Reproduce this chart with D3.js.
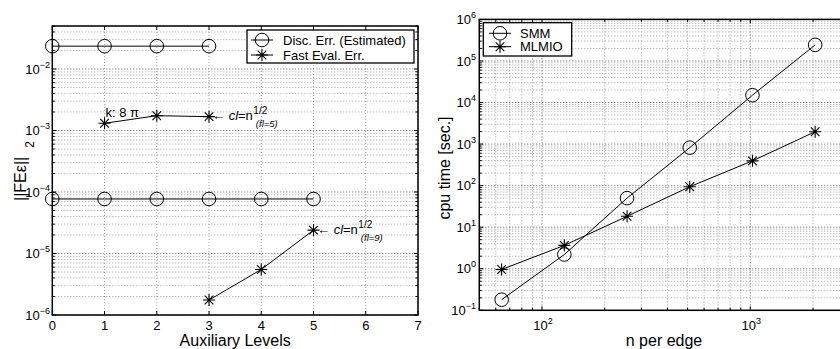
<!DOCTYPE html>
<html>
<head>
<meta charset="utf-8">
<script src="https://cdn.jsdelivr.net/npm/d3@7"></script>
<style>
  body { margin: 0; background: #fff; }
  svg { display: block; }
  text { font-family: "Liberation Sans", Arial, Helvetica, sans-serif; fill: #000; }
</style>
</head>
<body>
<svg id="chart" width="840" height="349"></svg>
<script>
// ---- Left panel: error norm vs. number of auxiliary levels ----
const discLevelsA = [0, 1, 2, 3];
const discErrA = [0.0235, 0.0235, 0.0235, 0.0235];
const discLevelsB = [0, 1, 2, 3, 4, 5];
const discErrB = [7.7e-5, 7.7e-5, 7.7e-5, 7.7e-5, 7.7e-5, 7.7e-5];
const fastLevelsA = [1, 2, 3];
const fastErrA = [1.31e-3, 1.74e-3, 1.68e-3];
const fastLevelsB = [3, 4, 5];
const fastErrB = [1.75e-6, 5.5e-6, 2.4e-5];
const levelTicks = [0, 1, 2, 3, 4, 5, 6, 7];
const errTickExps = [-6, -5, -4, -3, -2];
const leftLegend = ["Disc. Err. (Estimated)", "Fast Eval. Err."];

// ---- Right panel: cpu time vs. n per edge ----
const nPerEdge = [64, 128, 256, 512, 1024, 2048];
const smmTime = [0.18, 2.2, 50, 820, 15000, 244000];
const mlmioTime = [0.96, 3.65, 18.3, 94, 395, 1980];
const nTickExps = [2, 3];
const timeTickExps = [-1, 0, 1, 2, 3, 4, 5, 6];
const rightLegend = ["SMM", "MLMIO"];

const svg = d3.select("#chart");
const minus = e => (e < 0 ? "\u2212" + (-e) : String(e));

// log-axis helpers: every m*10^d inside the domain
function logGridValues(lo, hi) {
  const vals = [];
  for (let d = Math.floor(Math.log10(lo)); d <= Math.ceil(Math.log10(hi)); d++) {
    for (let m = 1; m <= 9; m++) {
      const v = m * Math.pow(10, d);
      if (v >= lo * 0.9999 && v <= hi * 1.0001) vals.push({ v, major: m === 1 });
    }
  }
  return vals;
}

function starPath(s) {
  const d = s * 0.72;
  return `M${-s},0L${s},0M0,${-s}L0,${s}M${-d},${-d}L${d},${d}M${-d},${d}L${d},${-d}`;
}

function drawSeries(g, xs, ys, xScale, yScale, marker) {
  const pts = xs.map((x, i) => [xScale(x), yScale(ys[i])]);
  g.append("path")
    .attr("d", d3.line()(pts))
    .attr("fill", "none").attr("stroke", "#000").attr("stroke-width", 1);
  pts.forEach(p => drawMarker(g, p[0], p[1], marker));
}

function drawMarker(g, x, y, marker) {
  if (marker === "o") {
    g.append("circle").attr("cx", x).attr("cy", y).attr("r", 6.8)
      .attr("fill", "none").attr("stroke", "#000").attr("stroke-width", 1);
  } else {
    g.append("path").attr("transform", `translate(${x},${y})`)
      .attr("d", starPath(6)).attr("fill", "none")
      .attr("stroke", "#000").attr("stroke-width", 1.1);
  }
}

function gridLine(g, x1, y1, x2, y2, major) {
  g.append("line").attr("x1", x1).attr("y1", y1).attr("x2", x2).attr("y2", y2)
    .attr("stroke", major ? "#555" : "#8a8a8a")
    .attr("stroke-width", major ? 0.9 : 0.8)
    .attr("stroke-dasharray", "1,2");
}

function tickLabelPow(g, x, y, exp, anchor) {
  const t = g.append("text").attr("x", x).attr("y", y)
    .attr("text-anchor", anchor).attr("font-size", 13);
  t.append("tspan").text("10");
  t.append("tspan").attr("dy", -6).attr("font-size", 9).text(minus(exp));
}

function legend(g, x, y, w, h, rows, rowYs, sampleX, textX) {
  g.append("rect").attr("x", x).attr("y", y).attr("width", w).attr("height", h)
    .attr("fill", "#fff").attr("stroke", "#000").attr("stroke-width", 1.3);
  rows.forEach((r, i) => {
    const ry = rowYs[i];
    g.append("line").attr("x1", sampleX - 11).attr("x2", sampleX + 11)
      .attr("y1", ry).attr("y2", ry).attr("stroke", "#000");
    drawMarker(g, sampleX, ry, i === 0 ? "o" : "*");
    g.append("text").attr("x", textX).attr("y", ry + 4.6)
      .attr("font-size", 13).text(r);
  });
}

// ================= Left panel =================
{
  const x0 = 52.3, x1 = 418, yTop = 26, yBot = 315;
  const x = d3.scaleLinear().domain([0, 7]).range([x0, x1]);
  const y = d3.scaleLog().domain([1e-6, 0.05]).range([yBot, yTop]);
  const g = svg.append("g");

  // grid
  levelTicks.forEach(t => gridLine(g, x(t), yTop, x(t), yBot, false));
  logGridValues(1e-6, 0.05).forEach(d => gridLine(g, x0, y(d.v), x1, y(d.v), d.major));

  // ticks (inward, all four sides)
  levelTicks.forEach(t => {
    g.append("line").attr("x1", x(t)).attr("x2", x(t)).attr("y1", yBot).attr("y2", yBot - 4).attr("stroke", "#000");
    g.append("line").attr("x1", x(t)).attr("x2", x(t)).attr("y1", yTop).attr("y2", yTop + 4).attr("stroke", "#000");
  });
  logGridValues(1e-6, 0.05).forEach(d => {
    const L = d.major ? 4 : 2.5;
    g.append("line").attr("x1", x0).attr("x2", x0 + L).attr("y1", y(d.v)).attr("y2", y(d.v)).attr("stroke", "#000");
    g.append("line").attr("x1", x1).attr("x2", x1 - L).attr("y1", y(d.v)).attr("y2", y(d.v)).attr("stroke", "#000");
  });

  // box
  g.append("rect").attr("x", x0).attr("y", yTop).attr("width", x1 - x0).attr("height", yBot - yTop)
    .attr("fill", "none").attr("stroke", "#000").attr("stroke-width", 1.5);

  // tick labels
  levelTicks.forEach(t => g.append("text").attr("x", x(t)).attr("y", 329.5)
    .attr("text-anchor", "middle").attr("font-size", 13).text(t));
  errTickExps.forEach(e => tickLabelPow(g, 50, y(Math.pow(10, e)) + 4.7, e, "end"));

  // series
  drawSeries(g, discLevelsA, discErrA, x, y, "o");
  drawSeries(g, discLevelsB, discErrB, x, y, "o");
  drawSeries(g, fastLevelsA, fastErrA, x, y, "*");
  drawSeries(g, fastLevelsB, fastErrB, x, y, "*");

  // annotations
  g.append("text").attr("x", x(1) + 1).attr("y", y(fastErrA[0]) - 6)
    .attr("font-size", 13).text("k: 8 \u03c0");

  function clNote(px, py, fl) {
    const t = g.append("text").attr("x", px).attr("y", py).attr("font-size", 13);
    t.append("tspan").text("\u2190 ");
    t.append("tspan").attr("font-style", "italic").text("cl");
    t.append("tspan").text("=n");
    const right = px + t.node().getComputedTextLength();
    g.append("text").attr("x", right + 0.5).attr("y", py - 6).attr("font-size", 10).text("1/2");
    g.append("text").attr("x", right + 3).attr("y", py + 7.5).attr("font-size", 9.5)
      .attr("font-style", "italic").text(`(fl=${fl})`);
  }
  clNote(x(3) + 3, y(fastErrA[2]) + 3, 5);
  clNote(x(5) + 3.5, y(fastErrB[2]) + 3.5, 9);

  // axis labels
  g.append("text").attr("x", x(3.5)).attr("y", 346).attr("text-anchor", "middle")
    .attr("font-size", 16).text("Auxiliary Levels");
  const yl = g.append("text").attr("transform", "translate(26,201) rotate(-90)")
    .attr("font-size", 16);
  yl.append("tspan").text("||FE\u03b5||");
  yl.append("tspan").attr("dx", 9).attr("dy", 8).attr("font-size", 12).text("2");

  legend(g, 247, 30, 167, 33, leftLegend, [40, 55], 262, 283);
}

// ================= Right panel =================
{
  const x0 = 479.3, yTop = 19.4, yBot = 310.3;
  const x = d3.scaleLog().domain([50, 3000]).range([x0, x0 + 208.3 * Math.log10(60)]);
  const x1 = x(3000);
  const y = d3.scaleLog().domain([0.1, 1e6]).range([yBot, yTop]);
  const g = svg.append("g");

  logGridValues(50, 3000).forEach(d => gridLine(g, x(d.v), yTop, x(d.v), yBot, d.major));
  logGridValues(0.1, 1e6).forEach(d => gridLine(g, x0, y(d.v), x1, y(d.v), d.major));

  logGridValues(50, 3000).forEach(d => {
    const L = d.major ? 4 : 2.5;
    g.append("line").attr("x1", x(d.v)).attr("x2", x(d.v)).attr("y1", yBot).attr("y2", yBot - L).attr("stroke", "#000");
    g.append("line").attr("x1", x(d.v)).attr("x2", x(d.v)).attr("y1", yTop).attr("y2", yTop + L).attr("stroke", "#000");
  });
  logGridValues(0.1, 1e6).forEach(d => {
    const L = d.major ? 4 : 2.5;
    g.append("line").attr("x1", x0).attr("x2", x0 + L).attr("y1", y(d.v)).attr("y2", y(d.v)).attr("stroke", "#000");
  });

  g.append("rect").attr("x", x0).attr("y", yTop).attr("width", x1 - x0).attr("height", yBot - yTop)
    .attr("fill", "none").attr("stroke", "#000").attr("stroke-width", 1.5);

  nTickExps.forEach(e => tickLabelPow(g, x(Math.pow(10, e)) + 1, 329.5, e, "middle"));
  timeTickExps.forEach(e => tickLabelPow(g, 476, y(Math.pow(10, e)) + 4.7, e, "end"));

  drawSeries(g, nPerEdge, smmTime, x, y, "o");
  drawSeries(g, nPerEdge, mlmioTime, x, y, "*");

  g.append("text").attr("x", 664).attr("y", 346).attr("text-anchor", "middle")
    .attr("font-size", 16).text("n per edge");
  g.append("text").attr("transform", "translate(450,168) rotate(-90)")
    .attr("text-anchor", "middle").attr("font-size", 16).text("cpu time [sec.]");

  legend(g, 483.3, 22.7, 88.4, 33.3, rightLegend, [33.3, 46.7], 500, 520);
}
</script>
</body>
</html>
